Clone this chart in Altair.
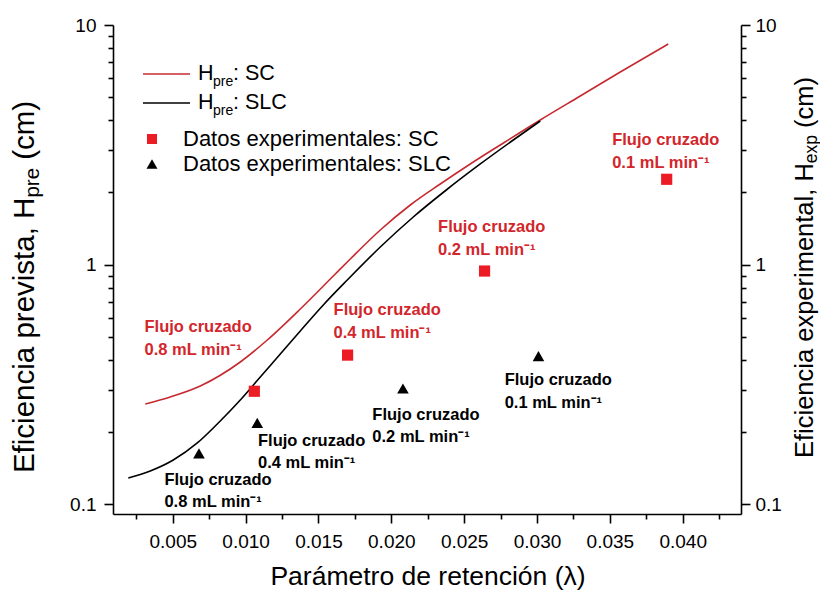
import altair as alt
import pandas as pd

FONT = "Liberation Sans"
RED_LINE = "#c62a30"
RED_MARK = "#ec1c24"
RED_TEXT = "#d3262c"

# Predicted plate height, H_pre (cm), versus retention parameter λ
sc_lambda = [0.003116, 0.004832, 0.006890, 0.009636, 0.011489, 0.013753, 0.016018, 0.017185, 0.019244,
             0.021303, 0.023361, 0.025420, 0.027479, 0.030224, 0.032970, 0.035715, 0.039009]
sc_h = [0.2619, 0.2802, 0.3114, 0.3922, 0.4844, 0.6525, 0.8962, 1.0553, 1.394,
        1.773, 2.170, 2.630, 3.157, 4.013, 5.054, 6.366, 8.330]
slc_lambda = [0.001949, 0.003459, 0.005037, 0.006685, 0.008057, 0.009636, 0.011008, 0.012381, 0.013753,
              0.015332, 0.016979, 0.019244, 0.021508, 0.023773, 0.026107, 0.028372, 0.030224]
slc_h = [0.1286, 0.1376, 0.1529, 0.1801, 0.2162, 0.2722, 0.3396, 0.4235, 0.5284,
         0.6783, 0.8623, 1.184, 1.580, 2.048, 2.630, 3.311, 3.974]

# Experimental plate height, H_exp (cm)
exp_sc_lambda = [0.0106, 0.0170, 0.0264, 0.0389]
exp_sc_h = [0.296, 0.419, 0.94, 2.27]
exp_slc_lambda = [0.0068, 0.0108, 0.0208, 0.0301]
exp_slc_h = [0.163, 0.2185, 0.304, 0.415]

# Cross-flow labels (mL/min) and where each two-line note sits
flows = ["0.8", "0.4", "0.2", "0.1"]
sc_note_lambda = [0.00306, 0.01604, 0.02321, 0.03516]
sc_note_h1 = [0.548, 0.6457, 1.434, 3.31]
sc_note_h2 = [0.4396, 0.5176, 1.149, 2.653]
slc_note_lambda = [0.00443, 0.01085, 0.01870, 0.02778]
slc_note_h1 = [0.126, 0.1832, 0.2353, 0.3294]
slc_note_h2 = [0.1019, 0.1483, 0.1904, 0.2640]

x_ticks = [0.0025 * k for k in range(1, 18)]
y_ticks = [0.1, 0.2, 0.3, 0.4, 0.5, 0.6, 0.7, 0.8, 0.9,
           1, 2, 3, 4, 5, 6, 7, 8, 9, 10]

W, H = 628, 489

X_SCALE = alt.Scale(domain=[0.0009, 0.044], nice=False, zero=False)
Y_SCALE = alt.Scale(type="log", domain=[0.091, 10], nice=False)

x_major = "round(datum.value * 400) % 2 == 0"
y_major = "indexof([0.1, 1, 10], datum.value) >= 0"

X_AXIS = alt.Axis(
    values=x_ticks, title=None, grid=False,
    labelExpr=f"{x_major} ? format(datum.value, '.3f') : ''",
    tickSize={"condition": {"test": x_major, "value": 9}, "value": 5},
    labelFontSize=19, labelPadding=9, labelFlush=False,
)


def y_axis(orient, pad):
    return alt.Axis(
        orient=orient, values=y_ticks, title=None, grid=False,
        labelExpr="datum.value == 10 ? '10' : datum.value == 1 ? '1' : datum.value == 0.1 ? '0.1' : ''",
        tickSize={"condition": {"test": y_major, "value": 9}, "value": 5},
        labelFontSize=19, labelPadding=pad, labelFlush=False,
    )


def xy(xcol, ycol, xaxis=None, yaxis=None):
    return dict(
        x=alt.X(f"{xcol}:Q", scale=X_SCALE, axis=xaxis),
        y=alt.Y(f"{ycol}:Q", scale=Y_SCALE, axis=yaxis),
    )


sc_df = pd.DataFrame({"lam": sc_lambda, "h": sc_h})
slc_df = pd.DataFrame({"lam": slc_lambda, "h": slc_h})
esc_df = pd.DataFrame({"lam": exp_sc_lambda, "h": exp_sc_h})
eslc_df = pd.DataFrame({"lam": exp_slc_lambda, "h": exp_slc_h})

sc_line = alt.Chart(sc_df).mark_line(color=RED_LINE, strokeWidth=1.6, interpolate="monotone").encode(
    **xy("lam", "h", xaxis=X_AXIS, yaxis=y_axis("left", 8)))
slc_line = alt.Chart(slc_df).mark_line(color="black", strokeWidth=1.6, interpolate="monotone").encode(
    **xy("lam", "h"))
sc_pts = alt.Chart(esc_df).mark_point(shape="square", filled=True, size=125, color=RED_MARK, opacity=1).encode(
    **xy("lam", "h"))
slc_pts = alt.Chart(eslc_df).mark_point(shape="triangle-up", filled=True, size=135, color="black", opacity=1).encode(
    **xy("lam", "h", yaxis=y_axis("right", 5)))


def notes(lams, h1, h2, color):
    rows = []
    for f, lam, a, b in zip(flows, lams, h1, h2):
        rows.append({"lam": lam, "h": a, "t": "Flujo cruzado"})
        rows.append({"lam": lam, "h": b, "t": f"{f} mL min\u207b\u00b9"})
    df = pd.DataFrame(rows)
    return alt.Chart(df).mark_text(align="left", baseline="middle", font=FONT, fontSize=16.5,
                                   fontWeight="bold", color=color).encode(
        **xy("lam", "h"), text="t:N")


def label(text, x, y, size, color="black", angle=0, align="left", baseline="middle"):
    return alt.Chart(pd.DataFrame({"t": [text]})).mark_text(
        align=align, baseline=baseline, font=FONT, fontSize=size, color=color, angle=angle
    ).encode(x=alt.value(x), y=alt.value(y), text="t:N")


def swatch(color, y):
    return alt.Chart(pd.DataFrame({"k": [0]})).mark_rule(color=color, strokeWidth=1.6).encode(
        x=alt.value(30), x2=alt.value(77), y=alt.value(y))


def marker(shape, color, y, size):
    return alt.Chart(pd.DataFrame({"k": [0]})).mark_point(
        shape=shape, filled=True, size=size, color=color, opacity=1
    ).encode(x=alt.value(39), y=alt.value(y))


legend = [
    swatch(RED_LINE, 49), label("H", 85, 49, 21.5), label("pre", 100, 57, 14), label(": SC", 120, 49, 21.5),
    swatch("black", 78), label("H", 85, 78, 21.5), label("pre", 100, 86, 14), label(": SLC", 120, 78, 21.5),
    marker("square", RED_MARK, 114, 100), label("Datos experimentales: SC", 70, 114, 22),
    marker("triangle-up", "black", 139, 120), label("Datos experimentales: SLC", 70, 139, 22),
]

titles = [
    label("Parámetro de retención (λ)", 315, 552, 26.5, align="center"),
    # left title, reading upwards
    label("Eficiencia prevista, H", -88, 172.6, 29.5, angle=270, align="right"),
    label("pre", -80, 172.6, 20.5, angle=270, align="left"),
    label("(cm)", -88, 134.8, 29.5, angle=270, align="left"),
    # right title, reading upwards
    label("Eficiencia experimental, H", 692, 138.2, 25.5, angle=270, align="right"),
    label("exp", 699, 138.2, 17.5, angle=270, align="left"),
    label("(cm)", 692, 102.9, 25.5, angle=270, align="left"),
]

chart = alt.layer(
    sc_line, slc_line, sc_pts, slc_pts,
    notes(sc_note_lambda, sc_note_h1, sc_note_h2, RED_TEXT),
    notes(slc_note_lambda, slc_note_h1, slc_note_h2, "black"),
    *legend, *titles,
).resolve_axis(x="independent", y="independent").properties(
    width=W, height=H,
    autosize=alt.AutoSizeParams(type="none"),
    padding={"left": 113, "top": 25, "right": 79, "bottom": 78},
    background="white",
).configure_view(stroke=None).configure_axis(
    domainColor="black", domainWidth=1.6, tickColor="black", tickWidth=1.6,
    labelColor="black", labelFont=FONT,
)

chart.save("out.html", embed_options={"renderer": "svg", "actions": False})
